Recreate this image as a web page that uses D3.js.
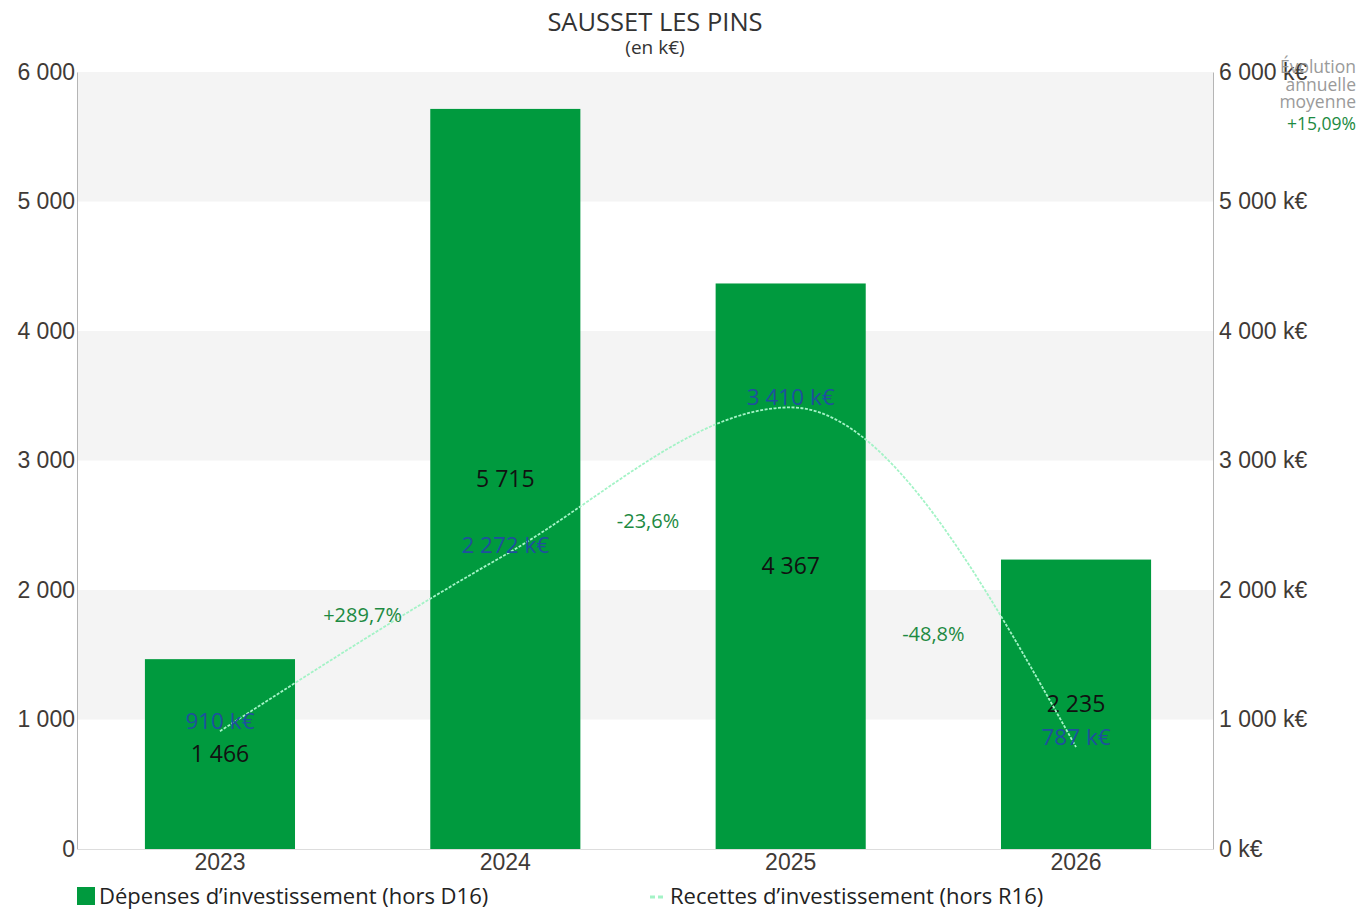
<!DOCTYPE html>
<html>
<head>
<meta charset="utf-8">
<script src="https://cdn.jsdelivr.net/npm/d3@7"></script>
<style>
  html, body { margin: 0; padding: 0; background: #fff; }
  svg { display: block; font-family: "Open Sans", "Noto Sans", sans-serif; }
</style>
</head>
<body>
<svg id="chart" width="1360" height="911"></svg>
<script>
// Budget data (k€)
const years = ["2023", "2024", "2025", "2026"];
const depenses = [1466, 5715, 4367, 2235];
const recettes = [910, 2272, 3410, 787];
const variations = ["+289,7%", "-23,6%", "-48,8%"];
const leftTicks = [0, 1000, 2000, 3000, 4000, 5000, 6000];
const averageGrowth = "+15,09%";
const seriesNames = ["Dépenses d’investissement (hors D16)", "Recettes d’investissement (hors R16)"];

const svg = d3.select("#chart");
const W = 1360, H = 911;
const x0 = 77, x1 = 1213;
const y0 = 849, y1 = 72;

const fmt = v => d3.format(",")(v).replace(/,/g, " ");

const x = d3.scaleBand().domain(years).range([x0, 1219]).paddingInner(0.474).paddingOuter(0.238);
const y = d3.scaleLinear().domain([0, 6000]).range([y0, y1]);

const barColor = "#009a3e";
const lineColor = "#a3f3c6";
const pctColor = "#1d8a42";
const valBlue = "#1f4f9e";
const axisText = "#3f3a36";

// alternating background bands
const bands = [[1000, 2000], [3000, 4000], [5000, 6000]];
svg.append("g").selectAll("rect").data(bands).join("rect")
  .attr("x", x0).attr("width", x1 - x0)
  .attr("y", d => y(d[1])).attr("height", d => y(d[0]) - y(d[1]))
  .attr("fill", "#f4f4f4");

// axes
const leftAxis = d3.axisLeft(y).tickValues(leftTicks).tickFormat(fmt).tickSize(0).tickPadding(2);
const gl = svg.append("g").attr("transform", `translate(${x0},0)`).call(leftAxis);
gl.select(".domain").attr("stroke", "#b5b5b5");
gl.selectAll("text").attr("font-size", 23).attr("fill", axisText);

const rightAxis = d3.axisRight(y).tickValues(leftTicks).tickFormat(d => fmt(d) + " k€").tickSize(0).tickPadding(6);
const gr = svg.append("g").attr("transform", `translate(${x1},0)`).call(rightAxis);
gr.select(".domain").attr("stroke", "#b5b5b5");
gr.selectAll("text").attr("font-size", 23).attr("fill", axisText);

const bottomAxis = d3.axisBottom(x).tickSize(0).tickPadding(5);
const gb = svg.append("g").attr("transform", `translate(0,${y0})`).call(bottomAxis);
gb.select(".domain").remove();
gb.selectAll("text").attr("font-size", 23).attr("fill", axisText);
svg.append("line").attr("x1", x0).attr("x2", x1).attr("y1", y0 + 0.5).attr("y2", y0 + 0.5)
  .attr("stroke", "#dddddd");

// bars
svg.append("g").selectAll("rect").data(depenses).join("rect")
  .attr("x", (d, i) => x(years[i])).attr("width", x.bandwidth())
  .attr("y", d => y(d)).attr("height", d => y0 - y(d))
  .attr("fill", barColor);

// bar value labels
svg.append("g").selectAll("text").data(depenses).join("text")
  .attr("x", (d, i) => x(years[i]) + x.bandwidth() / 2)
  .attr("y", d => (y(d) + y0) / 2)
  .attr("dy", "0.35em").attr("text-anchor", "middle")
  .attr("font-size", 23).attr("fill", "#111")
  .text(fmt);

// receipts line
const cx = i => x(years[i]) + x.bandwidth() / 2;
const line = d3.line().x((d, i) => cx(i)).y(d => y(d)).curve(d3.curveMonotoneX);
svg.append("path").datum(recettes)
  .attr("d", line).attr("fill", "none")
  .attr("stroke", lineColor).attr("stroke-width", 1.8)
  .attr("stroke-dasharray", "3,1.5");

// receipts value labels
svg.append("g").selectAll("text").data(recettes).join("text")
  .attr("x", (d, i) => cx(i)).attr("y", d => y(d) - 10)
  .attr("dy", "0.35em").attr("text-anchor", "middle")
  .attr("font-size", 22.5).attr("fill", valBlue)
  .text(d => fmt(d) + " k€");

// year-on-year variation labels
const pctDy = [-28, 40, 57];
svg.append("g").selectAll("text").data(variations).join("text")
  .attr("x", (d, i) => (cx(i) + cx(i + 1)) / 2)
  .attr("y", (d, i) => (y(recettes[i]) + y(recettes[i + 1])) / 2 + pctDy[i])
  .attr("dy", "0.35em").attr("text-anchor", "middle")
  .attr("font-size", 20).attr("fill", pctColor)
  .text(d => d);

// title
svg.append("text").attr("x", 655).attr("y", 31).attr("text-anchor", "middle")
  .attr("font-size", 25.5).attr("fill", "#333").text("SAUSSET LES PINS");
svg.append("text").attr("x", 655).attr("y", 54).attr("text-anchor", "middle")
  .attr("font-size", 19).attr("fill", "#333").text("(en k€)");

// average growth note
const note = svg.append("g").attr("text-anchor", "end").attr("font-size", 17.5);
["Évolution", "annuelle", "moyenne"].forEach((t, i) => {
  note.append("text").attr("x", 1356).attr("y", 73 + i * 17.5).attr("fill", "#9a9a9a").text(t);
});
note.append("text").attr("x", 1356).attr("y", 130).attr("fill", pctColor).text(averageGrowth);

// legend
const lg = svg.append("g").attr("font-size", 22).attr("fill", "#222");
lg.append("rect").attr("x", 77).attr("y", 887).attr("width", 18).attr("height", 18).attr("fill", barColor);
lg.append("text").attr("x", 99).attr("y", 896).attr("dy", "0.35em").text(seriesNames[0]);
lg.append("line").attr("x1", 650).attr("x2", 664).attr("y1", 897).attr("y2", 897)
  .attr("stroke", lineColor).attr("stroke-width", 3).attr("stroke-dasharray", "5,3");
lg.append("text").attr("x", 670).attr("y", 896).attr("dy", "0.35em").text(seriesNames[1]);
</script>
</body>
</html>
